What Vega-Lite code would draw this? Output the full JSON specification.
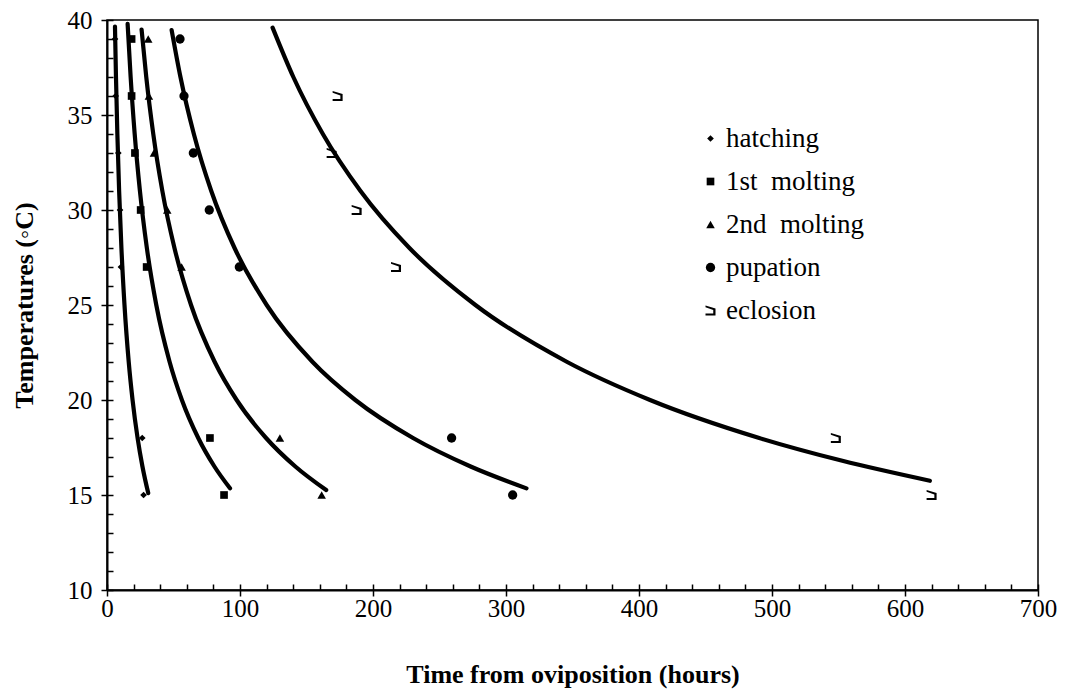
{
  "$schema": "https://vega.github.io/schema/vega-lite/v6.json",
  "width": 931,
  "height": 570,
  "autosize": {"type": "none"},
  "padding": {"left": 107, "top": 20, "right": 27, "bottom": 103},
  "background": "white",
  "config": {
    "view": {"stroke": "black", "strokeWidth": 1.5},
    "font": "Liberation Serif",
    "axis": {
      "domainColor": "black", "domainWidth": 2, "tickColor": "black", "tickWidth": 1.5,
      "labelColor": "black", "titleColor": "black", "grid": false,
      "labelFont": "Liberation Serif", "titleFont": "Liberation Serif"
    },
    "legend": {"labelFont": "Liberation Serif", "labelColor": "black"}
  },
  "datasets": {
    "curves": [
      {"series": "hatching", "time": 6, "temp": 39.65},
      {"series": "hatching", "time": 6.75, "temp": 37},
      {"series": "hatching", "time": 7.79, "temp": 34},
      {"series": "hatching", "time": 9.12, "temp": 31},
      {"series": "hatching", "time": 10.84, "temp": 28},
      {"series": "hatching", "time": 13.15, "temp": 25},
      {"series": "hatching", "time": 16.34, "temp": 22},
      {"series": "hatching", "time": 19.22, "temp": 20},
      {"series": "hatching", "time": 22.99, "temp": 18},
      {"series": "hatching", "time": 26.65, "temp": 16.5},
      {"series": "hatching", "time": 30.99, "temp": 15.1},
      {"series": "m1", "time": 15.5, "temp": 39.8},
      {"series": "m1", "time": 17.77, "temp": 37},
      {"series": "m1", "time": 20.82, "temp": 34},
      {"series": "m1", "time": 24.76, "temp": 31},
      {"series": "m1", "time": 29.97, "temp": 28},
      {"series": "m1", "time": 37.06, "temp": 25},
      {"series": "m1", "time": 47.1, "temp": 22},
      {"series": "m1", "time": 56.31, "temp": 20},
      {"series": "m1", "time": 68.61, "temp": 18},
      {"series": "m1", "time": 80.77, "temp": 16.5},
      {"series": "m1", "time": 92.5, "temp": 15.35},
      {"series": "m2", "time": 26, "temp": 39.5},
      {"series": "m2", "time": 29.52, "temp": 37},
      {"series": "m2", "time": 34.79, "temp": 34},
      {"series": "m2", "time": 41.62, "temp": 31},
      {"series": "m2", "time": 50.72, "temp": 28},
      {"series": "m2", "time": 63.19, "temp": 25},
      {"series": "m2", "time": 81.01, "temp": 22},
      {"series": "m2", "time": 97.48, "temp": 20},
      {"series": "m2", "time": 119.6, "temp": 18},
      {"series": "m2", "time": 141.6, "temp": 16.5},
      {"series": "m2", "time": 164.8, "temp": 15.26},
      {"series": "pupation", "time": 48.6, "temp": 39.47},
      {"series": "pupation", "time": 55.23, "temp": 37},
      {"series": "pupation", "time": 65.3, "temp": 34},
      {"series": "pupation", "time": 78.4, "temp": 31},
      {"series": "pupation", "time": 95.91, "temp": 28},
      {"series": "pupation", "time": 120.06, "temp": 25},
      {"series": "pupation", "time": 154.6, "temp": 22},
      {"series": "pupation", "time": 186.7, "temp": 20},
      {"series": "pupation", "time": 230.1, "temp": 18},
      {"series": "pupation", "time": 273.4, "temp": 16.5},
      {"series": "pupation", "time": 315.4, "temp": 15.35},
      {"series": "eclosion", "time": 124.5, "temp": 39.6},
      {"series": "eclosion", "time": 140.1, "temp": 37},
      {"series": "eclosion", "time": 162.3, "temp": 34},
      {"series": "eclosion", "time": 190.6, "temp": 31},
      {"series": "eclosion", "time": 227.4, "temp": 28},
      {"series": "eclosion", "time": 277.0, "temp": 25},
      {"series": "eclosion", "time": 346.0, "temp": 22},
      {"series": "eclosion", "time": 408.3, "temp": 20},
      {"series": "eclosion", "time": 490.4, "temp": 18},
      {"series": "eclosion", "time": 552.9, "temp": 16.8},
      {"series": "eclosion", "time": 618.7, "temp": 15.75}
    ],
    "obs": [
      {"series": "hatching", "time": 6, "temp": 39},
      {"series": "hatching", "time": 6.5, "temp": 36},
      {"series": "hatching", "time": 8.5, "temp": 33},
      {"series": "hatching", "time": 9.8, "temp": 30},
      {"series": "hatching", "time": 10.5, "temp": 27},
      {"series": "hatching", "time": 26.5, "temp": 18},
      {"series": "hatching", "time": 27.5, "temp": 15},
      {"series": "1st\u00a0 molting", "time": 18.5, "temp": 39},
      {"series": "1st\u00a0 molting", "time": 18.5, "temp": 36},
      {"series": "1st\u00a0 molting", "time": 21, "temp": 33},
      {"series": "1st\u00a0 molting", "time": 25.3, "temp": 30},
      {"series": "1st\u00a0 molting", "time": 29.8, "temp": 27},
      {"series": "1st\u00a0 molting", "time": 77.4, "temp": 18},
      {"series": "1st\u00a0 molting", "time": 88, "temp": 15},
      {"series": "2nd\u00a0 molting", "time": 31, "temp": 39},
      {"series": "2nd\u00a0 molting", "time": 31.5, "temp": 36},
      {"series": "2nd\u00a0 molting", "time": 35.3, "temp": 33},
      {"series": "2nd\u00a0 molting", "time": 45.3, "temp": 30},
      {"series": "2nd\u00a0 molting", "time": 56.1, "temp": 27},
      {"series": "2nd\u00a0 molting", "time": 130, "temp": 18},
      {"series": "2nd\u00a0 molting", "time": 161.4, "temp": 15},
      {"series": "pupation", "time": 54.9, "temp": 39},
      {"series": "pupation", "time": 57.9, "temp": 36},
      {"series": "pupation", "time": 64.9, "temp": 33},
      {"series": "pupation", "time": 76.9, "temp": 30},
      {"series": "pupation", "time": 99.5, "temp": 27},
      {"series": "pupation", "time": 259.1, "temp": 18},
      {"series": "pupation", "time": 305, "temp": 15},
      {"series": "eclosion", "time": 173.4, "temp": 36},
      {"series": "eclosion", "time": 168.9, "temp": 33},
      {"series": "eclosion", "time": 187.7, "temp": 30},
      {"series": "eclosion", "time": 217.3, "temp": 27},
      {"series": "eclosion", "time": 548, "temp": 18},
      {"series": "eclosion", "time": 620, "temp": 15}
    ]
  },
  "layer": [
    {
      "data": {"name": "curves"},
      "mark": {"type": "line", "color": "black", "strokeWidth": 4.2, "interpolate": "monotone", "strokeCap": "round"},
      "encoding": {
        "x": {"field": "time", "type": "quantitative",
          "scale": {"domain": [0, 700], "nice": false, "zero": false},
          "axis": {"orient": "bottom", "values": [0, 100, 200, 300, 400, 500, 600, 700],
            "tickSize": 6, "labelFontSize": 25, "labelPadding": 0, "labelFlush": false,
            "title": "Time from oviposition (hours)", "titleFontSize": 26, "titleFontWeight": "bold", "titlePadding": 40}},
        "y": {"field": "temp", "type": "quantitative",
          "scale": {"domain": [10, 40], "nice": false, "zero": false},
          "axis": {"orient": "left", "values": [10, 15, 20, 25, 30, 35, 40],
            "tickSize": 6, "labelFontSize": 25, "labelPadding": 9,
            "title": "Temperatures (◦C)", "titleFontSize": 26, "titleFontWeight": "bold", "titlePadding": 30}},
        "detail": {"field": "series"}
      }
    },
    {
      "data": {"name": "obs"},
      "mark": {"type": "point", "filled": true, "color": "black", "opacity": 1},
      "encoding": {
        "x": {"field": "time", "type": "quantitative",
          "axis": {"orient": "bottom", "values": [0,20,40,60,80,100,120,140,160,180,200,220,240,260,280,300,320,340,360,380,400,420,440,460,480,500,520,540,560,580,600,620,640,660,680,700],
            "tickSize": -6, "labels": false, "domain": false, "title": null}},
        "y": {"field": "temp", "type": "quantitative",
          "axis": {"orient": "left", "values": [10,11,12,13,14,15,16,17,18,19,20,21,22,23,24,25,26,27,28,29,30,31,32,33,34,35,36,37,38,39,40],
            "tickSize": -6, "labels": false, "domain": false, "title": null}},
        "shape": {"field": "series", "type": "nominal",
          "scale": {"domain": ["hatching", "1st\u00a0 molting", "2nd\u00a0 molting", "pupation", "eclosion"],
            "range": ["diamond", "square", "triangle-up", "circle", "M -1 -1 L 1 -0.4 L 1 1 L -1 1 L -1 0.6 L 0.55 0.6 L 0.55 -0.1 L -1 -0.65 Z"]},
          "legend": {"title": null, "orient": "none", "legendX": 590, "legendY": 105,
            "labelFontSize": 27, "rowPadding": 15, "labelOffset": 2}},
        "size": {"field": "series", "type": "nominal",
          "scale": {"domain": ["hatching", "1st\u00a0 molting", "2nd\u00a0 molting", "pupation", "eclosion"],
            "range": [45, 100, 75, 180, 50]}}
      }
    }
  ],
  "resolve": {"scale": {"x": "shared", "y": "shared"}, "axis": {"x": "independent", "y": "independent"}}
}
